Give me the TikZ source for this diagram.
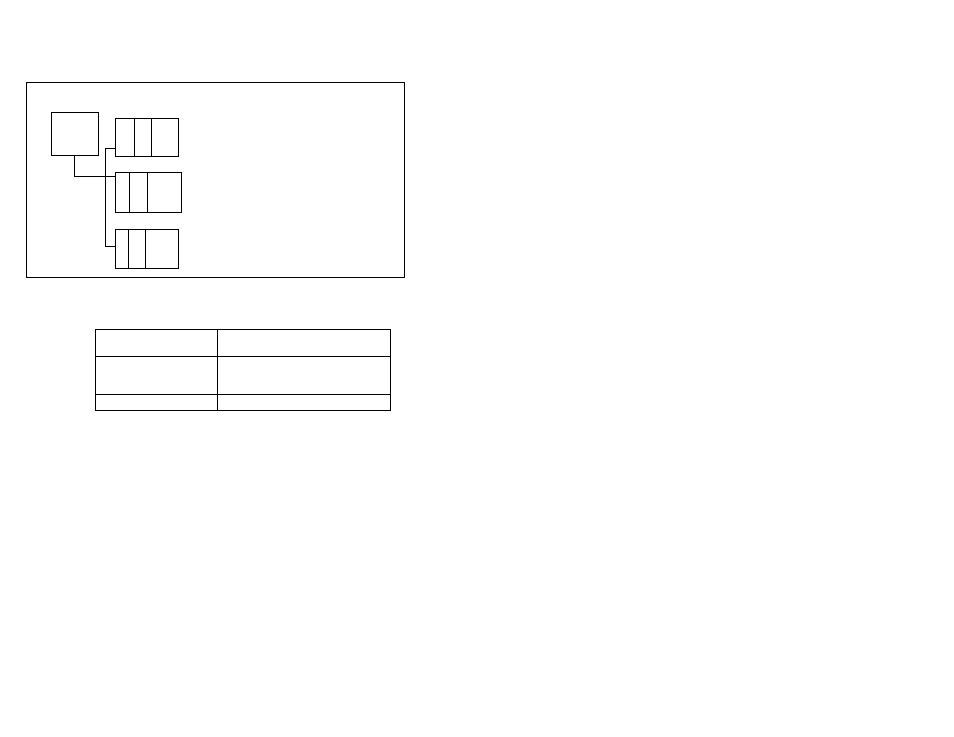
\documentclass[tikz,border=0pt]{standalone}
\usetikzlibrary{positioning}
\begin{document}
\begin{tikzpicture}[x=0.75pt, y=-0.75pt,
                    line width=0.6pt,
                    draw=black,
                    ]
    \tikzstyle{box}=[draw, rectangle, inner sep=0pt]
    \tikzstyle{root}=[box, minimum width=35.8pt, minimum height=32.3pt]
    \tikzstyle{record}=[box, minimum width=47.5pt, minimum height=28.3pt]

    \useasboundingbox (0,0) rectangle (954,737);

    % outer frame
    \draw (26.2,82.3) rectangle (404.2,277.3);

    \node[root] (top) at (74.85,133.5) {};
    \node[record] (rec1) at (147,137.2) {};
    \node[record, minimum width=49.8pt, minimum height=29.8pt] (rec2) at (148.5,192.2) {};
    \node[record, minimum height=29.3pt] (rec3) at (147,248.8) {};

    % record fields
    \foreach \rec/\a/\b in {rec1/14.55pt/27.3pt, rec2/10.5pt/24.3pt, rec3/10.05pt/22.5pt}{
        \draw ([xshift=\a]\rec.north west) -- ([xshift=\a]\rec.south west);
        \draw ([xshift=\b]\rec.north west) -- ([xshift=\b]\rec.south west);
    }

    % links
    \draw (top.south) |- ([yshift=-3pt]rec2.north west);
    \draw ([yshift=6pt]rec1.south west) -- ++(-9.6,0) coordinate (bus)
          |- ([yshift=-13.3pt]rec3.north west);

    % table
    \draw (95.3,329.3) rectangle (390.7,410.7);
    \draw (217.3,329.3) -- (217.3,410.7);
    \foreach \y in {356.3,394.3}
        \draw (95.3,\y) -- (390.7,\y);
\end{tikzpicture}
\end{document}
